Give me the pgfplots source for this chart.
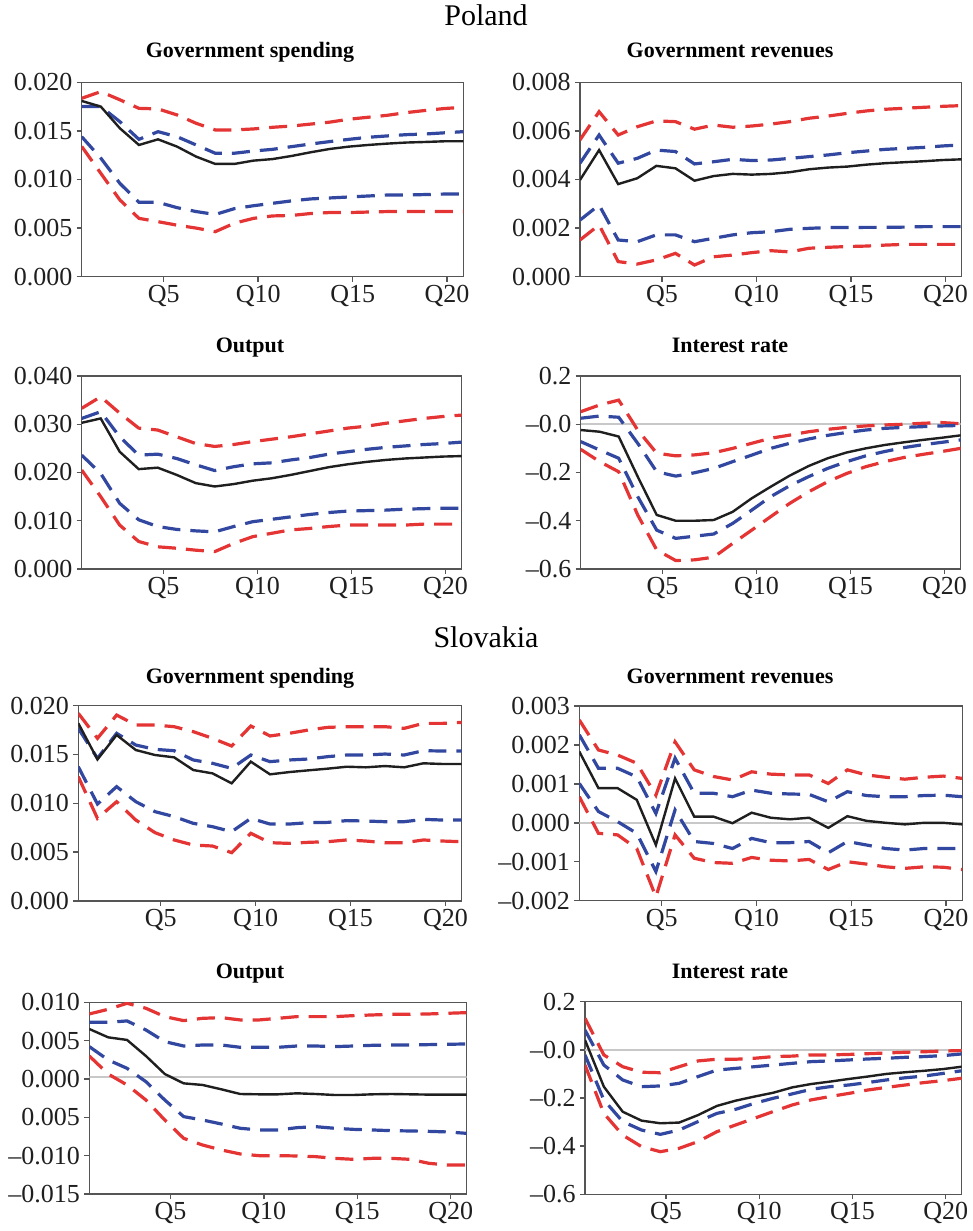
\documentclass[border=0pt]{standalone}
\usepackage{fontspec}
\setmainfont{Liberation Serif}
\usepackage{pgfplots}
\usepackage{pgfplotstable}
\pgfplotsset{compat=1.18}

\definecolor{cired}{RGB}{228,52,52}
\definecolor{ciblue}{RGB}{50,72,160}
\definecolor{axgray}{RGB}{85,85,85}
\definecolor{zgray}{RGB}{200,200,200}

% columns: i blk ru bu bl rl
\pgfplotstableread{
i blk ru bu bl rl
0 0.01808 0.01835 0.01750 0.01440 0.01340
1 0.01750 0.01904 0.01750 0.01220 0.01064
2 0.01527 0.01820 0.01595 0.00960 0.00790
3 0.01355 0.01732 0.01413 0.00765 0.00600
4 0.01413 0.01726 0.01492 0.00765 0.00566
5 0.01338 0.01664 0.01440 0.00710 0.00530
6 0.01235 0.01578 0.01355 0.00670 0.00500
7 0.01160 0.01510 0.01270 0.00640 0.00463
8 0.01160 0.01510 0.01270 0.00700 0.00550
9 0.01194 0.01520 0.01293 0.00730 0.00600
10 0.01210 0.01537 0.01310 0.00755 0.00625
11 0.01242 0.01550 0.01338 0.00780 0.00630
12 0.01280 0.01570 0.01365 0.00800 0.00650
13 0.01314 0.01590 0.01390 0.00810 0.00660
14 0.01338 0.01620 0.01413 0.00820 0.00660
15 0.01355 0.01640 0.01434 0.00830 0.00665
16 0.01369 0.01660 0.01448 0.00840 0.00670
17 0.01380 0.01688 0.01461 0.00840 0.00670
18 0.01386 0.01710 0.01468 0.00845 0.00670
19 0.01393 0.01730 0.01480 0.00850 0.00670
20 0.01393 0.01743 0.01492 0.00850 0.00670
}\PLgs

\pgfplotstableread{
i blk ru bu bl rl
0 0.00398 0.00563 0.00467 0.00233 0.00151
1 0.00521 0.00679 0.00583 0.00295 0.00213
2 0.00381 0.00583 0.00467 0.00151 0.00062
3 0.00405 0.00617 0.00487 0.00144 0.00052
4 0.00456 0.00641 0.00521 0.00172 0.00069
5 0.00446 0.00638 0.00515 0.00172 0.00096
6 0.00395 0.00607 0.00464 0.00144 0.00048
7 0.00414 0.00624 0.00473 0.00158 0.00082
8 0.00423 0.00615 0.00483 0.00172 0.00089
9 0.00420 0.00620 0.00478 0.00181 0.00099
10 0.00423 0.00628 0.00480 0.00185 0.00107
11 0.00430 0.00638 0.00487 0.00195 0.00102
12 0.00442 0.00652 0.00494 0.00199 0.00117
13 0.00449 0.00661 0.00501 0.00202 0.00121
14 0.00453 0.00672 0.00510 0.00202 0.00124
15 0.00461 0.00682 0.00517 0.00203 0.00126
16 0.00467 0.00689 0.00524 0.00203 0.00130
17 0.00471 0.00693 0.00528 0.00204 0.00133
18 0.00475 0.00697 0.00532 0.00206 0.00133
19 0.00480 0.00701 0.00538 0.00206 0.00133
20 0.00483 0.00704 0.00542 0.00206 0.00133
}\PLgr

\pgfplotstableread{
i blk ru bu bl rl
0 0.0303 0.0333 0.0312 0.0236 0.0205
1 0.0312 0.0357 0.0326 0.0198 0.0150
2 0.0243 0.0323 0.0274 0.0136 0.0091
3 0.0207 0.0292 0.0236 0.0102 0.0057
4 0.0210 0.0288 0.0238 0.0088 0.0046
5 0.0195 0.0274 0.0229 0.0082 0.0043
6 0.0178 0.0260 0.0216 0.0079 0.0039
7 0.0171 0.0254 0.0204 0.0077 0.0036
8 0.0176 0.0258 0.0212 0.0088 0.0053
9 0.0183 0.0264 0.0218 0.0098 0.0067
10 0.0188 0.0269 0.0220 0.0103 0.0074
11 0.0195 0.0274 0.0226 0.0108 0.0081
12 0.0203 0.0280 0.0231 0.0113 0.0084
13 0.0211 0.0286 0.0238 0.0117 0.0088
14 0.0217 0.0292 0.0243 0.0120 0.0091
15 0.0222 0.0296 0.0248 0.0121 0.0091
16 0.0226 0.0302 0.0252 0.0122 0.0091
17 0.0229 0.0307 0.0255 0.0124 0.0091
18 0.0231 0.0312 0.0258 0.0125 0.0093
19 0.0233 0.0316 0.0260 0.0126 0.0093
20 0.0234 0.0319 0.0263 0.0126 0.0093
}\PLout

\pgfplotstableread{
i blk ru bu bl rl
0 -0.024 0.052 0.025 -0.072 -0.104
1 -0.031 0.080 0.034 -0.107 -0.155
2 -0.051 0.100 0.029 -0.141 -0.197
3 -0.217 -0.024 -0.079 -0.300 -0.376
4 -0.376 -0.120 -0.197 -0.439 -0.521
5 -0.400 -0.131 -0.215 -0.473 -0.565
6 -0.400 -0.127 -0.201 -0.464 -0.562
7 -0.397 -0.118 -0.183 -0.455 -0.551
8 -0.363 -0.100 -0.155 -0.411 -0.494
9 -0.307 -0.079 -0.128 -0.356 -0.439
10 -0.259 -0.058 -0.100 -0.300 -0.383
11 -0.213 -0.045 -0.079 -0.255 -0.328
12 -0.173 -0.031 -0.061 -0.217 -0.280
13 -0.141 -0.021 -0.046 -0.183 -0.238
14 -0.117 -0.013 -0.034 -0.155 -0.204
15 -0.100 -0.007 -0.024 -0.131 -0.176
16 -0.086 -0.003 -0.017 -0.113 -0.155
17 -0.075 0.000 -0.013 -0.097 -0.138
18 -0.065 0.004 -0.010 -0.085 -0.125
19 -0.056 0.007 -0.007 -0.075 -0.113
20 -0.046 0.002 -0.005 -0.065 -0.100
}\PLir

\pgfplotstableread{
i blk ru bu bl rl
0 0.01820 0.01922 0.01768 0.01375 0.01273
1 0.01450 0.01666 0.01461 0.00993 0.00846
2 0.01700 0.01904 0.01717 0.01171 0.01017
3 0.01546 0.01802 0.01597 0.01017 0.00829
4 0.01495 0.01802 0.01553 0.00915 0.00700
5 0.01471 0.01785 0.01539 0.00864 0.00625
6 0.01341 0.01734 0.01444 0.00795 0.00573
7 0.01307 0.01666 0.01410 0.00761 0.00563
8 0.01205 0.01587 0.01358 0.00710 0.00495
9 0.01427 0.01792 0.01495 0.00846 0.00693
10 0.01297 0.01690 0.01427 0.00788 0.00597
11 0.01320 0.01717 0.01444 0.00788 0.00590
12 0.01338 0.01751 0.01454 0.00802 0.00601
13 0.01355 0.01778 0.01478 0.00805 0.00607
14 0.01375 0.01785 0.01495 0.00823 0.00625
15 0.01369 0.01785 0.01495 0.00819 0.00614
16 0.01382 0.01785 0.01505 0.00812 0.00597
17 0.01369 0.01768 0.01495 0.00812 0.00597
18 0.01410 0.01819 0.01539 0.00836 0.00625
19 0.01403 0.01819 0.01536 0.00829 0.00614
20 0.01403 0.01829 0.01536 0.00829 0.00607
}\SKgs

\pgfplotstableread{
i blk ru bu bl rl
0 0.00183 0.00264 0.00226 0.00101 0.00067
1 0.00089 0.00187 0.00140 0.00029 -0.00027
2 0.00089 0.00174 0.00140 0.00003 -0.00031
3 0.00059 0.00153 0.00118 -0.00027 -0.00066
4 -0.00057 0.00071 0.00024 -0.00125 -0.00190
5 0.00114 0.00208 0.00166 0.00033 -0.00031
6 0.00016 0.00136 0.00076 -0.00048 -0.00091
7 0.00016 0.00119 0.00076 -0.00053 -0.00102
8 -0.00001 0.00110 0.00067 -0.00066 -0.00104
9 0.00026 0.00131 0.00084 -0.00040 -0.00089
10 0.00013 0.00125 0.00076 -0.00051 -0.00096
11 0.00009 0.00123 0.00074 -0.00051 -0.00098
12 0.00013 0.00123 0.00073 -0.00048 -0.00094
13 -0.00013 0.00101 0.00054 -0.00077 -0.00120
14 0.00017 0.00136 0.00080 -0.00048 -0.00100
15 0.00005 0.00123 0.00070 -0.00057 -0.00106
16 0.00000 0.00117 0.00067 -0.00066 -0.00113
17 -0.00004 0.00112 0.00067 -0.00070 -0.00117
18 0.00000 0.00117 0.00070 -0.00066 -0.00113
19 0.00000 0.00120 0.00071 -0.00066 -0.00114
20 -0.00004 0.00114 0.00067 -0.00066 -0.00120
}\SKgr

\pgfplotstableread{
i blk ru bu bl rl
0 0.00652 0.00848 0.00739 0.00422 0.00300
1 0.00543 0.00909 0.00739 0.00248 0.00065
2 0.00509 0.00987 0.00757 0.00139 -0.00078
3 0.00300 0.00922 0.00639 -0.00035 -0.00274
4 0.00065 0.00813 0.00487 -0.00274 -0.00535
5 -0.00057 0.00761 0.00430 -0.00491 -0.00774
6 -0.00078 0.00791 0.00443 -0.00535 -0.00861
7 -0.00135 0.00800 0.00443 -0.00587 -0.00926
8 -0.00196 0.00770 0.00413 -0.00643 -0.00978
9 -0.00200 0.00770 0.00413 -0.00665 -0.01000
10 -0.00200 0.00791 0.00413 -0.00665 -0.01000
11 -0.00187 0.00813 0.00430 -0.00635 -0.01004
12 -0.00196 0.00813 0.00430 -0.00622 -0.01013
13 -0.00209 0.00813 0.00422 -0.00643 -0.01035
14 -0.00209 0.00826 0.00430 -0.00657 -0.01048
15 -0.00200 0.00835 0.00439 -0.00665 -0.01035
16 -0.00196 0.00843 0.00443 -0.00674 -0.01035
17 -0.00200 0.00843 0.00443 -0.00678 -0.01048
18 -0.00204 0.00848 0.00448 -0.00683 -0.01100
19 -0.00204 0.00857 0.00452 -0.00691 -0.01122
20 -0.00204 0.00865 0.00457 -0.00709 -0.01122
}\SKout

\pgfplotstableread{
i blk ru bu bl rl
0 0.041 0.131 0.082 -0.021 -0.063
1 -0.153 -0.021 -0.063 -0.208 -0.264
2 -0.257 -0.070 -0.125 -0.298 -0.354
3 -0.294 -0.093 -0.153 -0.333 -0.402
4 -0.305 -0.095 -0.150 -0.351 -0.423
5 -0.302 -0.070 -0.139 -0.333 -0.409
6 -0.271 -0.046 -0.111 -0.298 -0.381
7 -0.233 -0.039 -0.084 -0.264 -0.340
8 -0.211 -0.039 -0.077 -0.247 -0.312
9 -0.194 -0.035 -0.070 -0.222 -0.284
10 -0.178 -0.028 -0.063 -0.201 -0.256
11 -0.156 -0.026 -0.056 -0.183 -0.229
12 -0.142 -0.021 -0.049 -0.164 -0.208
13 -0.132 -0.021 -0.046 -0.153 -0.194
14 -0.121 -0.019 -0.042 -0.146 -0.181
15 -0.111 -0.016 -0.038 -0.136 -0.167
16 -0.100 -0.013 -0.035 -0.125 -0.156
17 -0.093 -0.010 -0.031 -0.116 -0.146
18 -0.087 -0.008 -0.028 -0.109 -0.136
19 -0.080 -0.005 -0.024 -0.098 -0.128
20 -0.070 -0.003 -0.017 -0.087 -0.118
}\SKir

\newcommand{\mn}{\textendash}

\pgfplotsset{
  irf/.style={
    scale only axis, anchor=south west,
    xmin=0, xmax=20,
    xtick={4.3,9.25,14.2,19.15},
    xticklabels={Q5,Q10,Q15,Q20},
    scaled y ticks=false,
    tick align=outside, xtick pos=bottom, ytick pos=left,
    major tick length=2.5pt,
    axis line style={draw=axgray, line width=0.7pt},
    tick style={draw=axgray, line width=0.7pt},
    ticklabel style={font=\fontsize{13}{15}\selectfont, text=black!88},
    yticklabel style={inner sep=2pt},
    xticklabel style={inner sep=1.5pt},
    clip=true,
  },
  rline/.style={draw=cired, line width=1.6pt, dash pattern=on 9pt off 5pt},
  bline/.style={draw=ciblue, line width=1.6pt, dash pattern=on 9pt off 5pt},
  kline/.style={draw=black!88, line width=1.2pt},
  zline/.style={draw=zgray, line width=1pt},
}

\newcommand{\bands}[1]{%
  \addplot[rline] table[x=i, y=ru] {#1};
  \addplot[rline] table[x=i, y=rl] {#1};
  \addplot[bline] table[x=i, y=bu] {#1};
  \addplot[bline] table[x=i, y=bl] {#1};
  \addplot[kline] table[x=i, y=blk] {#1};
}

\begin{document}
\begin{tikzpicture}
\useasboundingbox (0,0) rectangle (486.5pt,615.5pt);

% Country titles
\node[anchor=base, font=\fontsize{15}{18}\selectfont] at (243pt,602.5pt) {Poland};
\node[anchor=base, font=\fontsize{15}{18}\selectfont] at (243pt,291.5pt) {Slovakia};

% Panel titles
\node[anchor=base, font=\bfseries\fontsize{11}{13}\selectfont] at (125pt,586.5pt) {Government spending};
\node[anchor=base, font=\bfseries\fontsize{11}{13}\selectfont] at (365pt,586.5pt) {Government revenues};
\node[anchor=base, font=\bfseries\fontsize{11}{13}\selectfont] at (125pt,439.2pt) {Output};
\node[anchor=base, font=\bfseries\fontsize{11}{13}\selectfont] at (365pt,439.2pt) {Interest rate};
\node[anchor=base, font=\bfseries\fontsize{11}{13}\selectfont] at (125pt,273.5pt) {Government spending};
\node[anchor=base, font=\bfseries\fontsize{11}{13}\selectfont] at (365pt,273.5pt) {Government revenues};
\node[anchor=base, font=\bfseries\fontsize{11}{13}\selectfont] at (125pt,126.3pt) {Output};
\node[anchor=base, font=\bfseries\fontsize{11}{13}\selectfont] at (365pt,126.3pt) {Interest rate};

% Poland: Government spending
\begin{axis}[irf, at={(40.85pt,477.15pt)}, width=190.8pt, height=97.2pt,
  ymin=0, ymax=0.02, ytick={0,0.005,0.01,0.015,0.02},
  yticklabels={0.000,0.005,0.010,0.015,0.020}]
\bands{\PLgs}
\end{axis}

% Poland: Government revenues
\begin{axis}[irf, at={(290pt,477.15pt)}, width=190.85pt, height=97.2pt,
  ymin=0, ymax=0.008, ytick={0,0.002,0.004,0.006,0.008},
  yticklabels={0.000,0.002,0.004,0.006,0.008}]
\bands{\PLgr}
\end{axis}

% Poland: Output
\begin{axis}[irf, at={(40.85pt,331pt)}, width=190pt, height=96.5pt,
  ymin=0, ymax=0.04, ytick={0,0.01,0.02,0.03,0.04},
  yticklabels={0.000,0.010,0.020,0.030,0.040}]
\bands{\PLout}
\end{axis}

% Poland: Interest rate
\begin{axis}[irf, at={(290.35pt,331pt)}, width=190pt, height=96.5pt,
  ymin=-0.6, ymax=0.2, ytick={-0.6,-0.4,-0.2,0,0.2},
  yticklabels={\mn0.6,\mn0.4,\mn0.2,\mn0.0,0.2}]
\addplot[zline] coordinates {(0,0) (20,0)};
\bands{\PLir}
\end{axis}

% Slovakia: Government spending
\begin{axis}[irf, at={(39.15pt,165pt)}, width=191.7pt, height=97.65pt,
  ymin=0, ymax=0.02, ytick={0,0.005,0.01,0.015,0.02},
  yticklabels={0.000,0.005,0.010,0.015,0.020}]
\bands{\SKgs}
\end{axis}

% Slovakia: Government revenues
\begin{axis}[irf, at={(289.65pt,165.15pt)}, width=191.5pt, height=97.35pt,
  ymin=-0.002, ymax=0.003, ytick={-0.002,-0.001,0,0.001,0.002,0.003},
  yticklabels={\mn0.002,\mn0.001,0.000,0.001,0.002,0.003}]
\addplot[zline] coordinates {(0,0) (20,0)};
\bands{\SKgr}
\end{axis}

% Slovakia: Output
\begin{axis}[irf, at={(44.65pt,18.5pt)}, width=188.7pt, height=95.85pt,
  ymin=-0.015, ymax=0.01, ytick={-0.015,-0.01,-0.005,0,0.005,0.01},
  yticklabels={\mn0.015,\mn0.010,0.005,0.000,0.005,0.010}]
\addplot[zline] coordinates {(0,0.0002) (20,0.0002)};
\bands{\SKout}
\end{axis}

% Slovakia: Interest rate
\begin{axis}[irf, at={(292.5pt,18.35pt)}, width=188.35pt, height=96.3pt,
  ymin=-0.6, ymax=0.2, ytick={-0.6,-0.4,-0.2,0,0.2},
  yticklabels={\mn0.6,\mn0.4,\mn0.2,\mn0.0,0.2}]
\addplot[zline] coordinates {(0,0) (20,0)};
\bands{\SKir}
\end{axis}

\end{tikzpicture}
\end{document}
